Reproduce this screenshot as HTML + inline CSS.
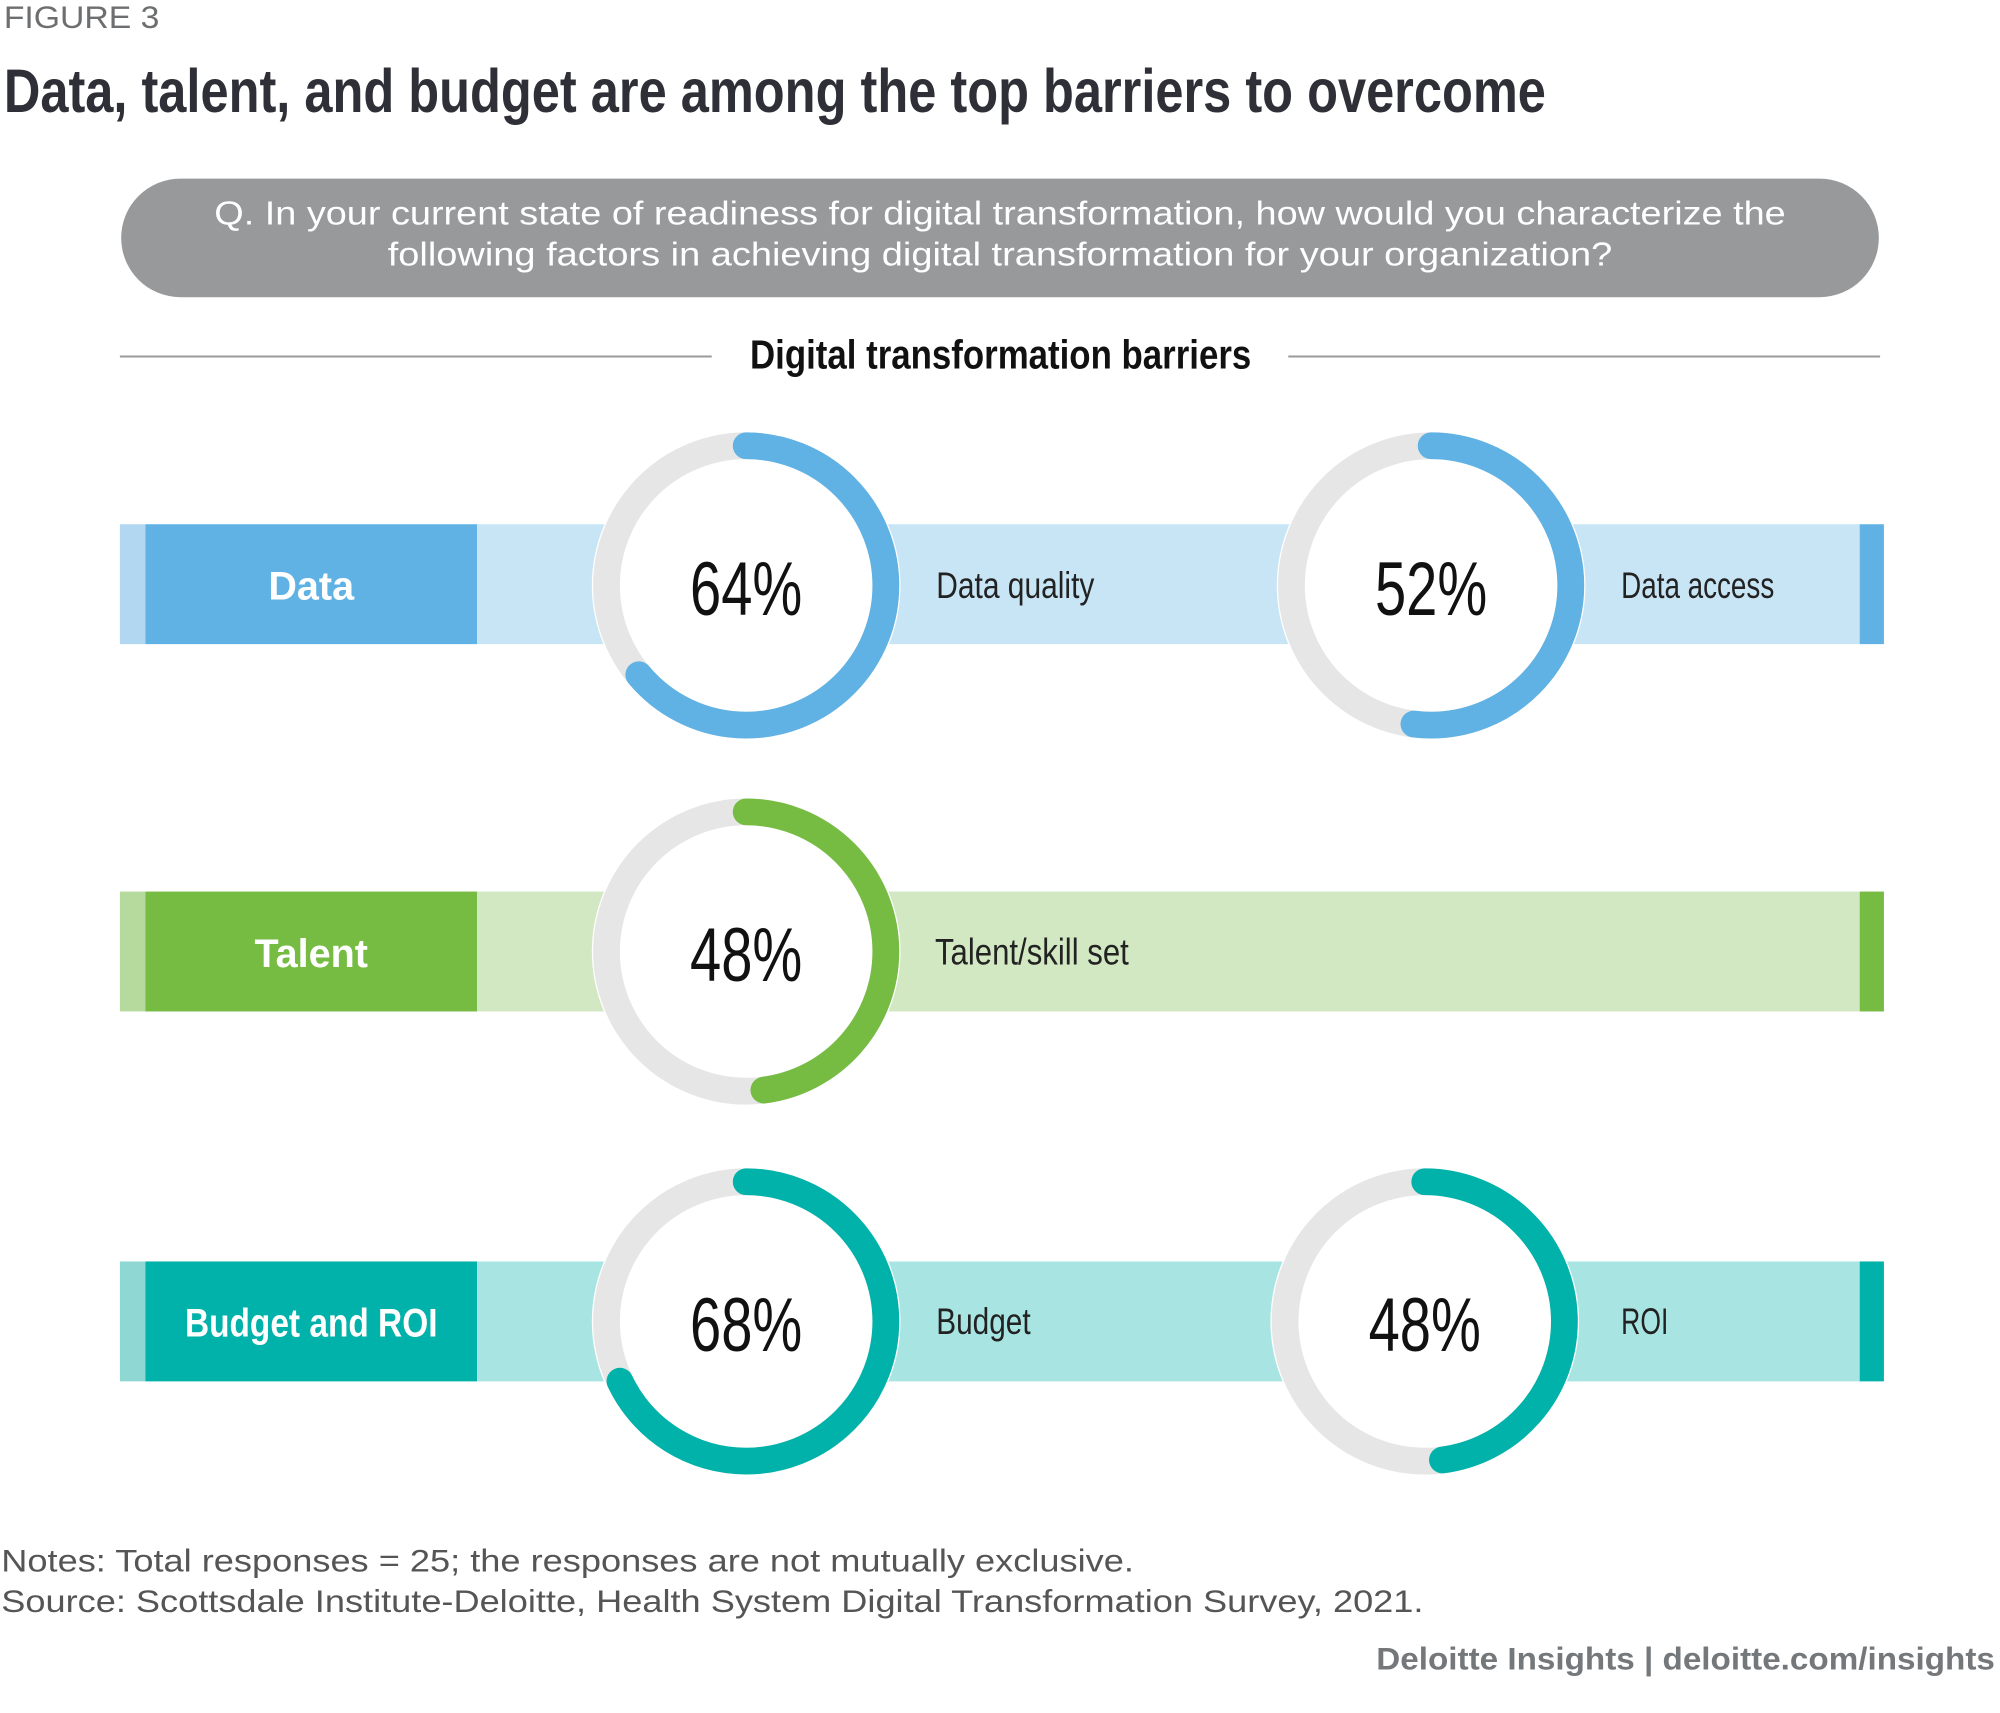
<!DOCTYPE html>
<html><head><meta charset="utf-8"><style>
html,body{margin:0;padding:0;background:#fff;}
svg{display:block;}
.n{font-family:"Liberation Sans Narrow","Liberation Sans",sans-serif;}
.s{font-family:"Liberation Sans","DejaVu Sans",sans-serif;}
</style></head><body>
<svg width="2000" height="1713" viewBox="0 0 1568 1343" xmlns="http://www.w3.org/2000/svg">
<rect width="1568" height="1343" fill="#fff"/>
<text x="3" y="22" class="s" font-size="25" fill="#6d6e70" textLength="122" lengthAdjust="spacingAndGlyphs">FIGURE 3</text>
<text x="3" y="88" class="n" font-size="48" font-weight="bold" fill="#2f2f38" textLength="1209" lengthAdjust="spacingAndGlyphs">Data, talent, and budget are among the top barriers to overcome</text>
<rect x="95" y="140" width="1378" height="93" rx="46.5" fill="#97999b"/>
<text x="168" y="176" class="s" font-size="26" fill="#fff" textLength="1232" lengthAdjust="spacingAndGlyphs">Q. In your current state of readiness for digital transformation, how would you characterize the</text>
<text x="304" y="208" class="s" font-size="26" fill="#fff" textLength="960" lengthAdjust="spacingAndGlyphs">following factors in achieving digital transformation for your organization?</text>
<line x1="94" y1="279.5" x2="558" y2="279.5" stroke="#9a9a9a" stroke-width="1.5"/>
<line x1="1010" y1="279.5" x2="1474" y2="279.5" stroke="#9a9a9a" stroke-width="1.5"/>
<text x="588" y="289" class="n" font-size="32" font-weight="bold" fill="#111" textLength="393" lengthAdjust="spacingAndGlyphs">Digital transformation barriers</text>

<!-- Row 1 -->
<rect x="94" y="411" width="20" height="94" fill="#b1d7f1"/>
<rect x="114" y="411" width="260" height="94" fill="#5fb2e3"/>
<rect x="374" y="411" width="1084" height="94" fill="#c8e5f5"/>
<rect x="1458" y="411" width="19" height="94" fill="#5fb2e3"/>
<text x="244" y="470" text-anchor="middle" class="n" font-size="31" font-weight="bold" fill="#fff">Data</text>
<circle cx="585" cy="459" r="121" fill="#fff"/>
<circle cx="585" cy="459" r="109.5" fill="none" stroke="#e6e6e6" stroke-width="21"/>
<circle cx="585" cy="459" r="109.5" fill="none" stroke="#5fb2e3" stroke-width="21" stroke-linecap="round" pathLength="100" stroke-dasharray="64 100" transform="rotate(-90 585 459)"/>
<text x="585" y="482" text-anchor="middle" class="n" font-size="60" fill="#111" textLength="88" lengthAdjust="spacingAndGlyphs">64%</text>
<text x="734" y="469" class="n" font-size="29" fill="#222" textLength="124" lengthAdjust="spacingAndGlyphs">Data quality</text>
<circle cx="1122" cy="459" r="121" fill="#fff"/>
<circle cx="1122" cy="459" r="109.5" fill="none" stroke="#e6e6e6" stroke-width="21"/>
<circle cx="1122" cy="459" r="109.5" fill="none" stroke="#5fb2e3" stroke-width="21" stroke-linecap="round" pathLength="100" stroke-dasharray="52 100" transform="rotate(-90 1122 459)"/>
<text x="1122" y="482" text-anchor="middle" class="n" font-size="60" fill="#111" textLength="88" lengthAdjust="spacingAndGlyphs">52%</text>
<text x="1271" y="469" class="n" font-size="29" fill="#222" textLength="120" lengthAdjust="spacingAndGlyphs">Data access</text>

<!-- Row 2 -->
<rect x="94" y="699" width="20" height="94" fill="#b6da9d"/>
<rect x="114" y="699" width="260" height="94" fill="#76bc43"/>
<rect x="374" y="699" width="1084" height="94" fill="#d1e8c2"/>
<rect x="1458" y="699" width="19" height="94" fill="#76bc43"/>
<text x="244" y="758" text-anchor="middle" class="n" font-size="31" font-weight="bold" fill="#fff">Talent</text>
<circle cx="585" cy="746" r="121" fill="#fff"/>
<circle cx="585" cy="746" r="109.5" fill="none" stroke="#e6e6e6" stroke-width="21"/>
<circle cx="585" cy="746" r="109.5" fill="none" stroke="#76bc43" stroke-width="21" stroke-linecap="round" pathLength="100" stroke-dasharray="48 100" transform="rotate(-90 585 746)"/>
<text x="585" y="769" text-anchor="middle" class="n" font-size="60" fill="#111" textLength="88" lengthAdjust="spacingAndGlyphs">48%</text>
<text x="733" y="756" class="n" font-size="29" fill="#222" textLength="152" lengthAdjust="spacingAndGlyphs">Talent/skill set</text>

<!-- Row 3 -->
<rect x="94" y="989" width="20" height="94" fill="#8fd7d2"/>
<rect x="114" y="989" width="260" height="94" fill="#00b2a9"/>
<rect x="374" y="989" width="1084" height="94" fill="#a8e5e2"/>
<rect x="1458" y="989" width="19" height="94" fill="#00b2a9"/>
<text x="244" y="1048" text-anchor="middle" class="n" font-size="31" font-weight="bold" fill="#fff" textLength="198" lengthAdjust="spacingAndGlyphs">Budget and ROI</text>
<circle cx="585" cy="1036" r="121" fill="#fff"/>
<circle cx="585" cy="1036" r="109.5" fill="none" stroke="#e6e6e6" stroke-width="21"/>
<circle cx="585" cy="1036" r="109.5" fill="none" stroke="#00b2a9" stroke-width="21" stroke-linecap="round" pathLength="100" stroke-dasharray="68 100" transform="rotate(-90 585 1036)"/>
<text x="585" y="1059" text-anchor="middle" class="n" font-size="60" fill="#111" textLength="88" lengthAdjust="spacingAndGlyphs">68%</text>
<text x="734" y="1046" class="n" font-size="29" fill="#222" textLength="74" lengthAdjust="spacingAndGlyphs">Budget</text>
<circle cx="1117" cy="1036" r="121" fill="#fff"/>
<circle cx="1117" cy="1036" r="109.5" fill="none" stroke="#e6e6e6" stroke-width="21"/>
<circle cx="1117" cy="1036" r="109.5" fill="none" stroke="#00b2a9" stroke-width="21" stroke-linecap="round" pathLength="100" stroke-dasharray="48 100" transform="rotate(-90 1117 1036)"/>
<text x="1117" y="1059" text-anchor="middle" class="n" font-size="60" fill="#111" textLength="88" lengthAdjust="spacingAndGlyphs">48%</text>
<text x="1271" y="1046" class="n" font-size="29" fill="#222" textLength="37" lengthAdjust="spacingAndGlyphs">ROI</text>

<text x="1" y="1232" class="s" font-size="25" fill="#555" textLength="888" lengthAdjust="spacingAndGlyphs">Notes: Total responses = 25; the responses are not mutually exclusive.</text>
<text x="1" y="1264" class="s" font-size="25" fill="#555" textLength="1115" lengthAdjust="spacingAndGlyphs">Source: Scottsdale Institute-Deloitte, Health System Digital Transformation Survey, 2021.</text>
<text x="1079" y="1309" class="s" font-size="25" font-weight="bold" fill="#75787b" textLength="485" lengthAdjust="spacingAndGlyphs">Deloitte Insights | deloitte.com/insights</text>
</svg>
</body></html>
